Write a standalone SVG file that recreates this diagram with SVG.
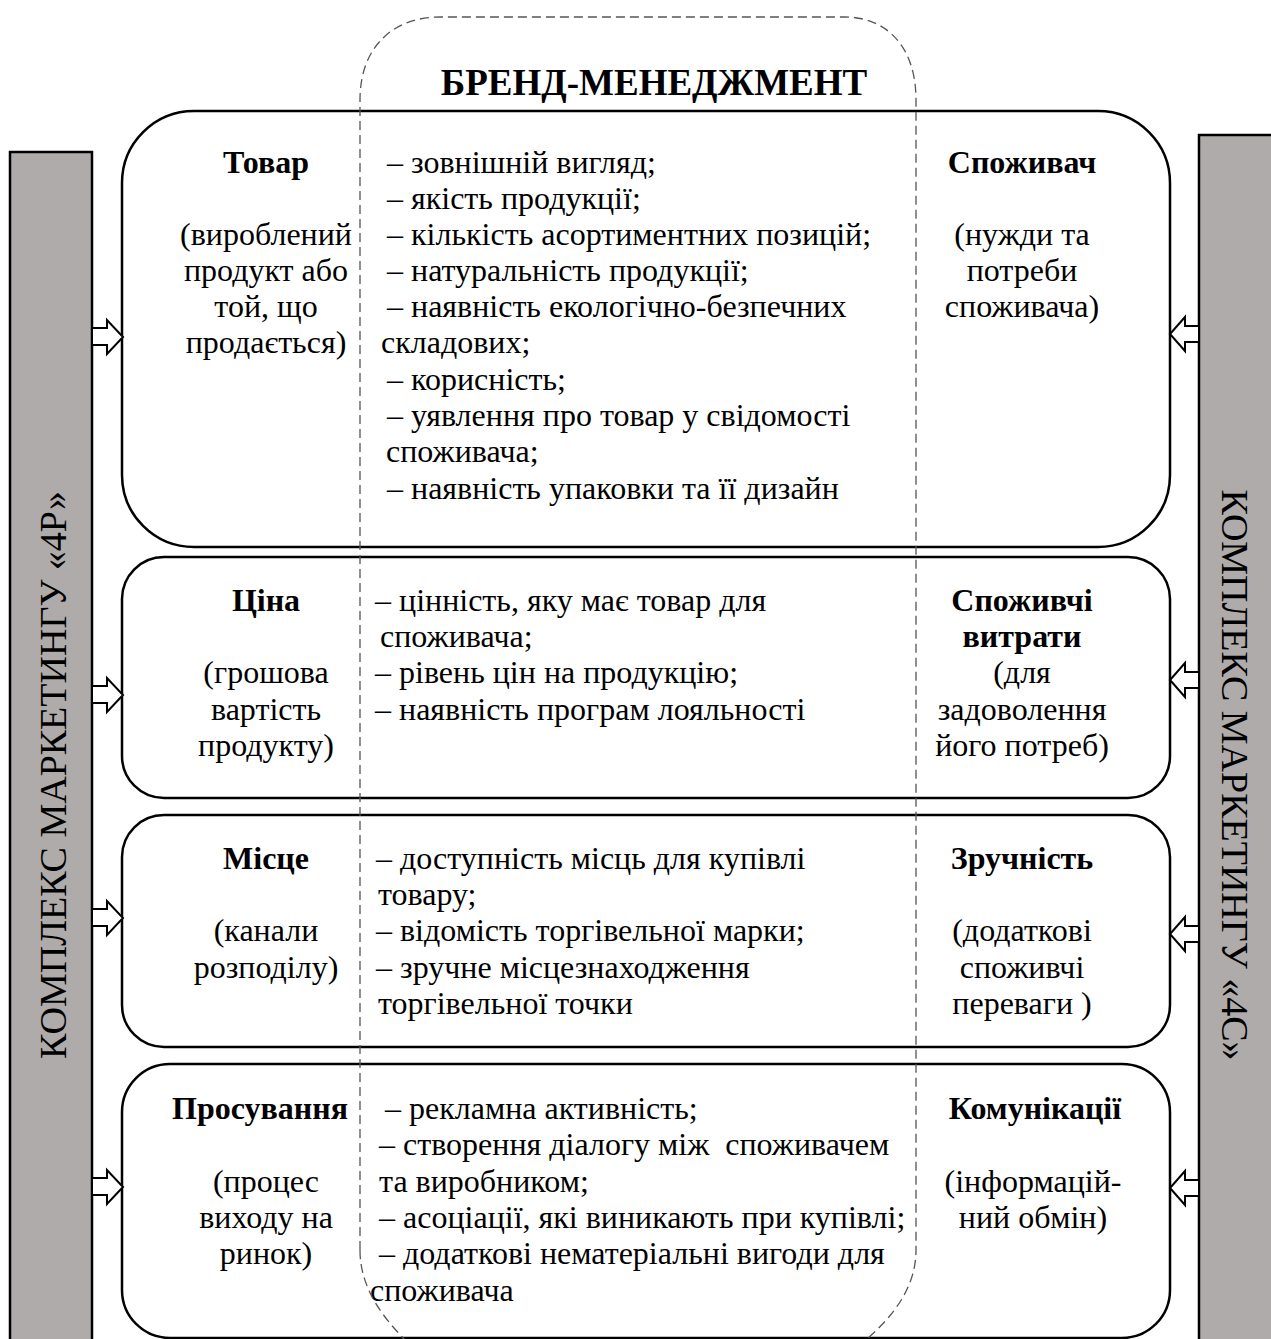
<svg xmlns="http://www.w3.org/2000/svg" width="1271" height="1339" viewBox="0 0 1271 1339">
<style>
.box{fill:#fff;stroke:#000;stroke-width:2.5}
.bar{fill:#afabab;stroke:#000;stroke-width:2.5}
.arr{fill:#fff;stroke:#000;stroke-width:2}
text{font-family:"Liberation Serif","Times New Roman",serif;font-size:32px;fill:#000}
.b{font-weight:bold}
.c{text-anchor:middle}
.vt{font-size:38px;text-anchor:middle}
.title{font-size:37px;font-weight:bold;text-anchor:middle}
.dash{fill:none;stroke:#555;stroke-width:1.3;stroke-dasharray:9 5}
</style>
<g id="bar-4p">
<rect class="bar" x="10" y="152" width="82" height="1200"/>
<text class="vt" transform="translate(66,775) rotate(-90)">КОМПЛЕКС МАРКЕТИНГУ «4Р»</text>
</g>
<g id="bar-4c">
<rect class="bar" x="1199" y="135" width="90" height="1220"/>
<text class="vt" transform="translate(1222,775) rotate(90)">КОМПЛЕКС МАРКЕТИНГУ «4С»</text>
</g>
<g id="box-product">
<rect class="box" x="122" y="111" width="1048" height="436" rx="72" ry="72"/>
<text class="b c" x="266" y="173">Товар</text>
<text class="c" x="266" y="245">(вироблений</text>
<text class="c" x="266" y="281">продукт або</text>
<text class="c" x="266" y="317">той, що</text>
<text class="c" x="266" y="353">продається)</text>
<text x="387" y="173">– зовнішній вигляд;</text>
<text x="387" y="209">– якість продукції;</text>
<text x="387" y="245">– кількість асортиментних позицій;</text>
<text x="387" y="281">– натуральність продукції;</text>
<text x="387" y="317">– наявність екологічно-безпечних</text>
<text x="381" y="353">складових;</text>
<text x="387" y="390">– корисність;</text>
<text x="387" y="426">– уявлення про товар у свідомості</text>
<text x="386" y="462">споживача;</text>
<text x="387" y="499">– наявність упаковки та її дизайн</text>
<text class="b c" x="1022" y="173">Споживач</text>
<text class="c" x="1022" y="245">(нужди та</text>
<text class="c" x="1022" y="281">потреби</text>
<text class="c" x="1022" y="317">споживача)</text>
</g>
<g id="box-price">
<rect class="box" x="122" y="557" width="1048" height="241" rx="42" ry="42"/>
<text class="b c" x="266" y="611">Ціна</text>
<text class="c" x="266" y="683">(грошова</text>
<text class="c" x="266" y="720">вартість</text>
<text class="c" x="266" y="756">продукту)</text>
<text x="375" y="611">– цінність, яку має товар для</text>
<text x="380" y="647">споживача;</text>
<text x="375" y="683">– рівень цін на продукцію;</text>
<text x="375" y="720">– наявність програм лояльності</text>
<text class="b c" x="1022" y="611">Споживчі</text>
<text class="b c" x="1022" y="647">витрати</text>
<text class="c" x="1022" y="683">(для</text>
<text class="c" x="1022" y="720">задоволення</text>
<text class="c" x="1022" y="756">його потреб)</text>
</g>
<g id="box-place">
<rect class="box" x="122" y="815" width="1048" height="232" rx="42" ry="42"/>
<text class="b c" x="266" y="869">Місце</text>
<text class="c" x="266" y="941">(канали</text>
<text class="c" x="266" y="978">розподілу)</text>
<text x="376" y="869">– доступність місць для купівлі</text>
<text x="378" y="905">товару;</text>
<text x="376" y="941">– відомість торгівельної марки;</text>
<text x="376" y="978">– зручне місцезнаходження</text>
<text x="378" y="1014">торгівельної точки</text>
<text class="b c" x="1022" y="869">Зручність</text>
<text class="c" x="1022" y="941">(додаткові</text>
<text class="c" x="1022" y="978">споживчі</text>
<text class="c" x="1022" y="1014">переваги )</text>
</g>
<g id="box-promotion">
<rect class="box" x="122" y="1064" width="1048" height="274" rx="48" ry="48"/>
<text class="b c" x="260" y="1119">Просування</text>
<text class="c" x="266" y="1192">(процес</text>
<text class="c" x="266" y="1228">виходу на</text>
<text class="c" x="266" y="1264">ринок)</text>
<text x="385" y="1119">– рекламна активність;</text>
<text x="379" y="1155">– створення діалогу між&#160; споживачем</text>
<text x="379" y="1192">та виробником;</text>
<text x="379" y="1228">– асоціації, які виникають при купівлі;</text>
<text x="379" y="1264">– додаткові нематеріальні вигоди для</text>
<text x="370" y="1301">споживача</text>
<text class="b c" x="1035" y="1119">Комунікації</text>
<text class="c" x="1033" y="1192">(інформацій-</text>
<text class="c" x="1033" y="1228">ний обмін)</text>
</g>
<g id="brand-management">
<path class="dash" d="M360,1250 L360,100 C360,45 395,17 440,17 L845,17 C885,17 916,45 916,100 L916,1250 C916,1290 890,1320 860,1345 M360,1250 C360,1290 385,1320 410,1345"/>
<text class="title" x="654" y="95">БРЕНД-МЕНЕДЖМЕНТ</text>
</g>
<g id="connectors">
<polygon class="arr" points="92,328 107,328 107,320 123,337 107,354 107,345 92,345"/>
<polygon class="arr" points="92,686 107,686 107,678 123,695 107,712 107,703 92,703"/>
<polygon class="arr" points="92,909 107,909 107,901 123,918 107,935 107,926 92,926"/>
<polygon class="arr" points="92,1178 107,1178 107,1170 123,1187 107,1204 107,1195 92,1195"/>
<polygon class="arr" points="1199,326 1185,326 1185,317 1170,334 1185,351 1185,342 1199,342"/>
<polygon class="arr" points="1199,672 1185,672 1185,663 1170,680 1185,697 1185,688 1199,688"/>
<polygon class="arr" points="1199,926 1185,926 1185,917 1170,934 1185,951 1185,942 1199,942"/>
<polygon class="arr" points="1199,1180 1185,1180 1185,1171 1170,1188 1185,1205 1185,1196 1199,1196"/>
</g>
</svg>
